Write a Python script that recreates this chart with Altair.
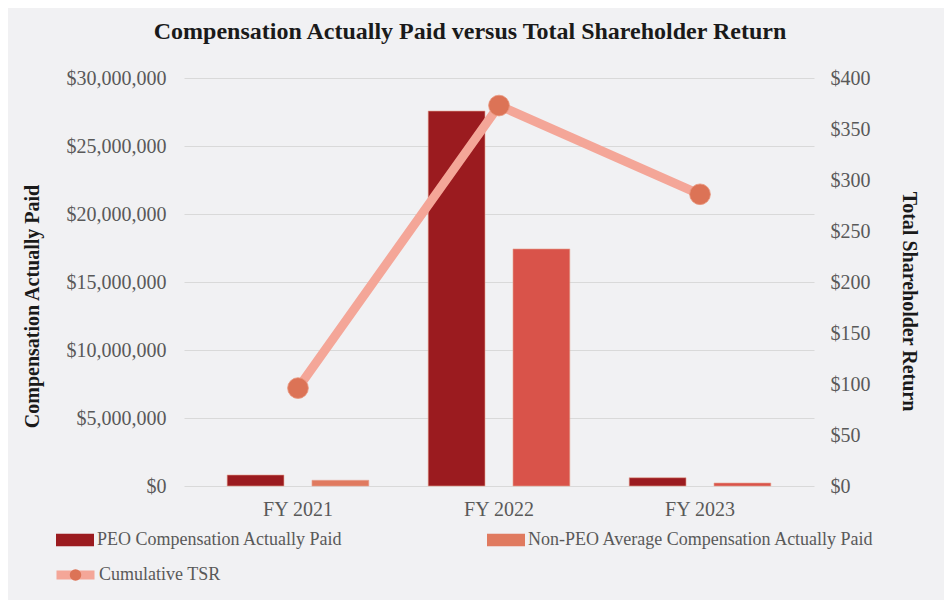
import altair as alt
import pandas as pd

years = ["FY 2021", "FY 2022", "FY 2023"]
peo_cap = [810000, 27570000, 610000]
non_peo_cap = [420000, 17430000, 220000]
tsr = [96, 373, 286]

series_names = ["PEO Compensation Actually Paid", "Non-PEO Average Compensation Actually Paid"]
tsr_name = "Cumulative TSR"

bars_df = pd.DataFrame(
    [{"year": y, "series": series_names[0], "value": v} for y, v in zip(years, peo_cap)]
    + [{"year": y, "series": series_names[1], "value": v} for y, v in zip(years, non_peo_cap)]
)
tsr_df = pd.DataFrame({"year": years, "tsr": tsr, "line_key": [tsr_name] * 3, "dot_key": ["dot"] * 3})

FONT = "Liberation Serif"
GRAY = "#595959"

x_scale = alt.Scale(domain=years, paddingInner=0, paddingOuter=0.067)

bars = alt.Chart(bars_df).mark_bar(stroke="#e8a592", strokeWidth=0.6).encode(
    x=alt.X("year:N", scale=x_scale, sort=years,
            axis=alt.Axis(title=None, labelAngle=0, ticks=False, domain=False,
                          labelPadding=13, labelFontSize=20, labelColor=GRAY, labelFont=FONT)),
    xOffset=alt.XOffset("series:N", sort=series_names,
                        scale=alt.Scale(domain=series_names, paddingInner=0.33, paddingOuter=0.35)),
    y=alt.Y("value:Q",
            scale=alt.Scale(domain=[0, 30000000], nice=False),
            axis=alt.Axis(title="Compensation Actually Paid", values=list(range(0, 30000001, 5000000)),
                          format="$,.0f", ticks=False, domain=False, grid=True,
                          gridColor="#d9d9d9", gridWidth=1.2, labelPadding=18,
                          labelFontSize=20, labelColor=GRAY, labelFont=FONT,
                          titleFont=FONT, titleFontSize=20, titleFontWeight="bold",
                          titleColor="#1a1a1a", titlePadding=24, titleY=228)),
    color=alt.condition(
        f"datum.series === '{series_names[1]}' && datum.year !== 'FY 2021'",
        alt.value("#d9534a"),
        alt.Color("series:N", sort=series_names,
                  scale=alt.Scale(domain=series_names, range=["#9b1b1f", "#e07a5f"]),
                  legend=alt.Legend(title=None, orient="none", legendX=-128, legendY=443,
                                    columns=2, columnPadding=144, symbolType="M-1,-0.33H1V0.33H-1Z",
                                    symbolSize=1444, symbolStrokeWidth=0, labelFont=FONT,
                                    labelFontSize=18, labelColor=GRAY, labelOffset=3,
                                    labelLimit=500, padding=0)),
    ),
)

line = alt.Chart(tsr_df).mark_line(strokeWidth=9).encode(
    x=alt.X("year:N", sort=years, bandPosition=0.5),
    y=alt.Y("tsr:Q", scale=alt.Scale(domain=[0, 400], nice=False),
            axis=alt.Axis(title="Total Shareholder Return", orient="right",
                          values=list(range(0, 401, 50)), format="$,.0f", ticks=False,
                          domain=False, grid=False, labelPadding=16, labelFontSize=20,
                          labelColor=GRAY, labelFont=FONT, titleFont=FONT, titleFontSize=20,
                          titleFontWeight="bold", titleColor="#1a1a1a", titlePadding=28,
                          titleY=223)),
    stroke=alt.Stroke("line_key:N", scale=alt.Scale(domain=[tsr_name], range=["#f4a698"]),
                      legend=alt.Legend(title=None, orient="none", legendX=-132, legendY=473.5,
                                        symbolType="stroke", symbolSize=1444, symbolStrokeWidth=9,
                                        labelFont=FONT, labelFontSize=18, labelColor=GRAY,
                                        labelOffset=0, padding=0)),
)

points = alt.Chart(tsr_df).mark_point(filled=True, size=430, opacity=1,
                                      stroke="#e8957c", strokeWidth=0.8).encode(
    x=alt.X("year:N", sort=years, bandPosition=0.5),
    y=alt.Y("tsr:Q"),
    fill=alt.Fill("dot_key:N", scale=alt.Scale(domain=["dot"], range=["#dc7356"]),
                  legend=alt.Legend(title=None, orient="none", legendX=-114.5, legendY=491,
                                    symbolType="circle", symbolSize=133, symbolStrokeWidth=0,
                                    labelExpr="''", padding=0)),
)

chart = alt.layer(bars, alt.layer(line, points)).resolve_scale(
    y="independent"
).properties(
    width=630,
    height=408,
    autosize=alt.AutoSizeParams(type="none"),
    padding={"left": 176, "top": 70, "right": 130, "bottom": 114},
    background="#f1f1f3",
    title=alt.TitleParams("Compensation Actually Paid versus Total Shareholder Return",
                          font=FONT, fontSize=24, fontWeight="bold", color="#1a1a1a",
                          anchor="middle", frame="bounds", offset=24),
).configure_view(stroke=None)

chart.save("out.html", embed_options={"renderer": "svg", "actions": False})
